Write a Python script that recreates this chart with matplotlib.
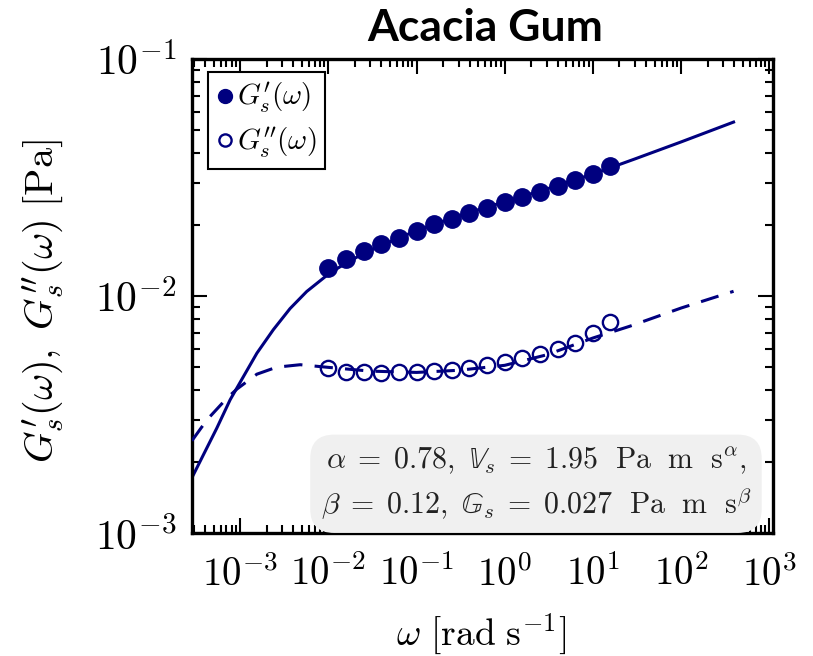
import numpy as np
import matplotlib
matplotlib.use("Agg")
import matplotlib.pyplot as plt
from matplotlib.ticker import FuncFormatter, LogLocator

plt.rcParams['mathtext.fontset'] = 'cm'
plt.rcParams['font.family'] = 'serif'

navy = '#00007f'

omega = [0.01, 0.0158, 0.0251, 0.0398, 0.0631, 0.1, 0.158, 0.251, 0.398, 0.631,
         1.0, 1.58, 2.51, 3.98, 6.31, 10.0, 15.8]
g_store = [0.01309, 0.01436, 0.01549, 0.01652, 0.01762, 0.01880, 0.02012, 0.02113,
           0.02233, 0.02360, 0.02485, 0.02624, 0.02754, 0.02911, 0.03085, 0.03271, 0.03540]
g_loss = [0.00495, 0.00480, 0.00477, 0.00472, 0.00477, 0.00478, 0.00481, 0.00488,
          0.00495, 0.00510, 0.00528, 0.00547, 0.00570, 0.00599, 0.00635, 0.00695, 0.00775]

# fitted model curves
omega_fit1 = [2.84e-4, 3.84e-4, 5.44e-4, 7.71e-4, 1.09e-3, 1.55e-3, 2.38e-3, 3.68e-3,
              5.69e-3, 1e-2, 1.58e-2, 2.5e-2, 4e-2, 0.1, 0.3, 1, 3, 10, 30, 100, 393]
g_store_fit = [1.71e-3, 2.14e-3, 2.77e-3, 3.65e-3, 4.57e-3, 5.74e-3, 7.21e-3, 8.85e-3,
               1.045e-2, 1.236e-2, 1.377e-2, 1.51e-2, 1.637e-2, 1.888e-2, 0.0218, 0.0250,
               0.0283, 0.0327, 0.0379, 0.0447, 0.0542]
omega_fit2 = [2.84e-4, 4.2e-4, 7.06e-4, 9.2e-4, 1.55e-3, 2.6e-3, 4.8e-3, 1e-2, 3e-2,
              0.1, 0.3, 1, 3, 10, 26, 100, 393]
g_loss_fit = [2.45e-3, 3.0e-3, 3.70e-3, 4.05e-3, 4.68e-3, 5.01e-3, 5.13e-3, 5.0e-3,
              4.82e-3, 4.76e-3, 4.86e-3, 5.1e-3, 5.65e-3, 6.65e-3, 7.45e-3, 8.9e-3, 0.01047]

fig = plt.figure(figsize=(8.13, 6.56), dpi=100)
ax = fig.add_axes([0.2362, 0.1875, 0.7146, 0.7225])

ax.plot(omega_fit1, g_store_fit, '-', color=navy, lw=2.2, zorder=2)
ax.plot(omega, g_store, 'o', color=navy, ms=12.5, zorder=3, label=r"$G^{\prime}_{s}(\omega)$")
ax.plot(omega, g_loss, 'o', mfc='white', mec=navy, mew=1.7, ms=11, zorder=3,
        label=r"$G^{\prime\prime}_{s}(\omega)$")
ax.plot(omega_fit2, g_loss_fit, '--', color=navy, lw=2.2, dashes=(6, 4), zorder=4)

ax.set_xscale('log')
ax.set_yscale('log')
ax.set_xlim(2.85e-4, 1.1e3)
ax.set_ylim(1e-3, 1e-1)

fmt = FuncFormatter(lambda v, p: r'$10^{%d}$' % round(np.log10(v)))
ax.xaxis.set_major_formatter(fmt)
ax.yaxis.set_major_formatter(fmt)
ax.xaxis.set_major_locator(LogLocator(base=10, numticks=20))
ax.xaxis.set_minor_locator(LogLocator(base=10, subs=np.arange(2, 10), numticks=20))
ax.tick_params(which='both', direction='in', top=True, right=True, width=1.5)
ax.tick_params(which='major', length=11)
ax.tick_params(which='minor', length=6)
ax.tick_params(axis='x', which='major', labelsize=28, pad=16)
ax.tick_params(axis='y', which='major', labelsize=30, pad=11)
for s in ax.spines.values():
    s.set_linewidth(2.4)

ax.set_xlabel(r'$\omega\ [\mathrm{rad\ s^{-1}}]$', fontsize=27)
ax.xaxis.set_label_coords(0.497, -0.215)
ax.xaxis.label.set_va('center')
ax.set_ylabel(r"$G^{\prime}_{s}(\omega),\ G^{\prime\prime}_{s}(\omega)\ [\mathrm{Pa}]$", fontsize=29)
ax.yaxis.set_label_coords(-0.255, 0.49)
ax.yaxis.label.set_va('center')

leg = ax.legend(loc='upper left', bbox_to_anchor=(0.027, 0.972), borderaxespad=0,
                fontsize=21, fancybox=False, edgecolor='black', framealpha=1,
                handletextpad=0.1, borderpad=0.3, handlelength=0.6, markerscale=0.8,
                labelspacing=0.35)
leg.get_frame().set_linewidth(1.5)

ax.text(0.592, 0.104,
        r"$\alpha\;=\;0.78,\ \mathbb{V}_s\;=\;1.95\ \ \mathrm{Pa\ \ m\ \ s}^{\alpha},$" + "\n" +
        r"$\beta\;=\;0.12,\ \mathbb{G}_s\;=\;0.027\ \ \mathrm{Pa\ \ m\ \ s}^{\beta}$",
        transform=ax.transAxes, ha='center', va='center', fontsize=21.5, color='#222222',
        linespacing=1.4,
        bbox=dict(boxstyle='round,pad=0.35,rounding_size=0.8', fc='#f0f0f0', ec='none'))

fig.text(485 / 813, 1 - 28 / 656, 'Acacia Gum', ha='center', va='center',
         fontsize=32, fontweight='bold', family='Lato')

fig.savefig('out.png', dpi=100)
